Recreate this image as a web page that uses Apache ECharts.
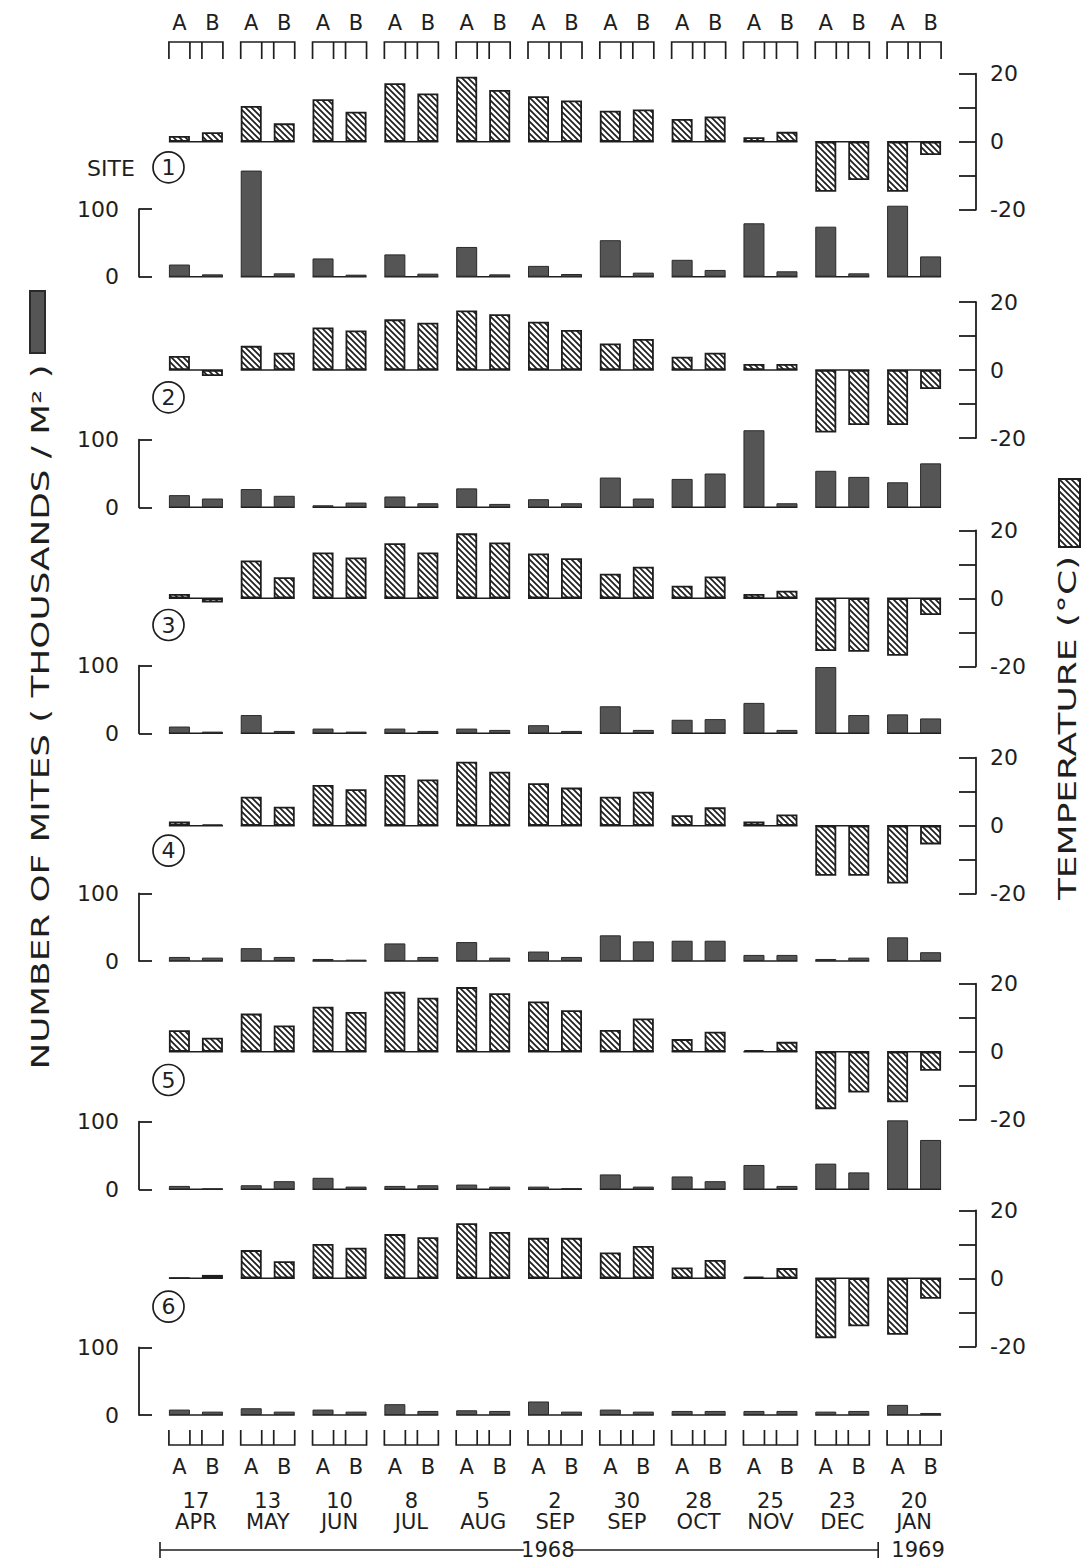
<!DOCTYPE html>
<html>
<head>
<meta charset="utf-8">
<script src="https://cdn.jsdelivr.net/npm/echarts@6/dist/echarts.min.js"></script>
<style>
html,body{margin:0;padding:0;background:#fff;}
#main{width:1091px;height:1564px;}
</style>
</head>
<body>
<div id="main"></div>
<script>
// ---------------- DATA ----------------
const days   = ['17','13','10','8','5','2','30','28','25','23','20'];
const months = ['APR','MAY','JUN','JUL','AUG','SEP','SEP','OCT','NOV','DEC','JAN'];
const sampleLabels = ['A','B'];
const siteNames = ['1','2','3','4','5','6'];
const yearSpans = [['1968',0,9],['1969',10,10]];
const tempTicks = [-20, 0, 20];
const miteTicks = [0, 100];

// temperature (°C), sample A and B per site
const site1TempA = [1.7, 10.5, 12.5, 17.2, 19.1, 13.4, 9.1, 6.7, 1.3, -14.7, -14.7];
const site1TempB = [2.8, 5.4, 8.8, 14.2, 15.2, 12.1, 9.5, 7.4, 2.9, -11.3, -3.9];
const site2TempA = [4.1, 7.1, 12.5, 14.9, 17.5, 14.2, 7.8, 3.9, 1.8, -18.4, -16.2];
const site2TempB = [-1.8, 5.1, 11.6, 13.9, 16.4, 11.8, 9.1, 5.1, 1.8, -16.2, -5.6];
const site3TempA = [1.3, 11.1, 13.5, 16.2, 19.1, 13.2, 7.2, 3.7, 1.3, -15.5, -16.9];
const site3TempB = [-1.2, 6.2, 12.0, 13.5, 16.4, 11.8, 9.3, 6.4, 2.2, -15.7, -4.9];
const site4TempA = [1.2, 8.5, 12.0, 14.9, 18.8, 12.5, 8.5, 3.1, 1.2, -14.7, -17.0];
const site4TempB = [0.3, 5.6, 10.7, 13.6, 15.9, 11.2, 10.0, 5.4, 3.3, -14.7, -5.5];
const site5TempA = [6.3, 11.2, 13.2, 17.6, 19.0, 14.8, 6.4, 3.7, 0.5, -16.9, -14.9];
const site5TempB = [4.1, 7.7, 11.7, 15.9, 17.2, 12.2, 9.8, 5.9, 2.9, -12.0, -5.6];
const site6TempA = [0.1, 8.3, 10.1, 13.0, 16.2, 11.9, 7.6, 3.2, 0.5, -17.6, -16.6];
const site6TempB = [1.0, 5.0, 9.0, 12.1, 13.6, 11.9, 9.5, 5.4, 3.0, -14.1, -6.0];

// mites (thousands / m2), sample A and B per site
const site1MiteA = [18, 157, 27, 33, 44, 16, 54, 25, 79, 74, 105];
const site1MiteB = [3.5, 5, 3, 4.5, 3.5, 4, 6, 10, 8, 5, 30];
const site2MiteA = [18, 27, 3, 16, 28, 12, 44, 42, 114, 54, 37];
const site2MiteB = [13, 17, 7, 6, 5, 6, 13, 50, 6, 45, 65];
const site3MiteA = [10, 27, 7, 7, 7, 12, 40, 20, 45, 98, 28];
const site3MiteB = [2.5, 3.5, 2.5, 3.5, 5, 3.5, 5, 21, 5, 27, 22];
const site4MiteA = [6, 19, 3, 26, 28, 14, 38, 30, 9, 3, 35];
const site4MiteB = [5, 6, 2, 6, 5, 6, 29, 30, 9, 5, 13];
const site5MiteA = [5, 6, 17, 5, 7, 4, 22, 19, 36, 38, 102];
const site5MiteB = [1, 12, 4, 6, 4, 1.5, 4, 12, 5, 25, 73];
const site6MiteA = [8, 10, 8, 16, 7, 20, 8, 6, 6, 5, 15];
const site6MiteB = [5, 5, 5, 6, 6, 5, 5, 6, 6, 6, 3];

const tempA = [site1TempA, site2TempA, site3TempA, site4TempA, site5TempA, site6TempA];
const tempB = [site1TempB, site2TempB, site3TempB, site4TempB, site5TempB, site6TempB];
const miteA = [site1MiteA, site2MiteA, site3MiteA, site4MiteA, site5MiteA, site6MiteA];
const miteB = [site1MiteB, site2MiteB, site3MiteB, site4MiteB, site5MiteB, site6MiteB];
const categories = days.map((d, i) => d + ' ' + months[i]);

// ---------------- LAYOUT / STYLE ----------------
const INK = '#1e1e1e';
const FONT = "'DejaVu Sans', sans-serif";
const X_LEFT = 160, X_WIDTH = 790;
const tempZeroY = [141.7, 370, 598.3, 825.7, 1051.7, 1278.3];
const miteZeroY = [276.7, 507.3, 733.3, 961, 1189.3, 1415];
const siteLabelY = [168.3, 398.3, 626, 851.7, 1081, 1307.7];
const TEMP_HALF = 68, MITE_H = 67.6;
const BAR_W = 21, GAP = 12;
const HALF_GROUP = BAR_W + GAP / 2;
const SUB_OFF = (BAR_W + GAP) / 2;

function hatchPattern() {
  const s = 6;
  const c = document.createElement('canvas');
  c.width = s; c.height = s;
  const g = c.getContext('2d');
  g.fillStyle = '#fff'; g.fillRect(0, 0, s, s);
  g.strokeStyle = INK; g.lineWidth = 1.7;
  g.beginPath();
  g.moveTo(-1, -1); g.lineTo(s + 1, s + 1);
  g.moveTo(-1, s - 1); g.lineTo(1, s + 1);
  g.moveTo(s - 1, -1); g.lineTo(s + 1, 1);
  g.stroke();
  return { image: c, repeat: 'repeat', imageWidth: s, imageHeight: s };
}
const HATCH = hatchPattern();

const grids = [], xAxes = [], yAxes = [], series = [];

function baseline(gi) {
  return {
    type: 'custom', xAxisIndex: gi, yAxisIndex: gi, silent: true, z: 1,
    data: categories.map((_, i) => [i, 0]),
    renderItem: (params, api) => {
      const p = api.coord([api.value(0), 0]);
      return { type: 'line', shape: { x1: p[0] - HALF_GROUP, y1: p[1], x2: p[0] + HALF_GROUP, y2: p[1] },
               style: { stroke: INK, lineWidth: 1.6 } };
    }
  };
}

for (let k = 0; k < 6; k++) {
  // temperature panel
  const ti = grids.length;
  grids.push({ left: X_LEFT, width: X_WIDTH, top: tempZeroY[k] - TEMP_HALF, height: 2 * TEMP_HALF });
  xAxes.push({ type: 'category', gridIndex: ti, data: categories, show: false });
  yAxes.push({
    type: 'value', gridIndex: ti, min: -20, max: 20, interval: 10, position: 'right', offset: 26,
    axisLine: { show: true, onZero: false, lineStyle: { color: INK, width: 1.8 } },
    axisTick: { show: true, inside: true, length: 17, lineStyle: { color: INK, width: 1.8 } },
    axisLabel: { show: true, margin: 14, color: INK, fontSize: 22, fontFamily: FONT,
                 formatter: v => (tempTicks.indexOf(v) >= 0 ? String(v) : '') },
    splitLine: { show: false }
  });
  series.push(baseline(ti));
  [tempA[k], tempB[k]].forEach(arr => series.push({
    type: 'bar', name: 'Temperature', xAxisIndex: ti, yAxisIndex: ti, data: arr,
    barWidth: BAR_W, barGap: (GAP / BAR_W * 100) + '%', clip: false, z: 2,
    itemStyle: { color: HATCH, borderColor: INK, borderWidth: 1.8 }
  }));

  // mite panel
  const mi = grids.length;
  grids.push({ left: X_LEFT, width: X_WIDTH, top: miteZeroY[k] - MITE_H, height: MITE_H });
  xAxes.push({ type: 'category', gridIndex: mi, data: categories, show: false });
  yAxes.push({
    type: 'value', gridIndex: mi, min: 0, max: 100, interval: 100, position: 'left', offset: 21,
    axisLine: { show: true, onZero: false, lineStyle: { color: INK, width: 1.8 } },
    axisTick: { show: true, inside: true, length: 13, lineStyle: { color: INK, width: 1.8 } },
    axisLabel: { show: true, margin: 20, color: INK, fontSize: 22, fontFamily: FONT,
                 formatter: v => (miteTicks.indexOf(v) >= 0 ? String(v) : '') },
    splitLine: { show: false }
  });
  series.push(baseline(mi));
  [miteA[k], miteB[k]].forEach(arr => series.push({
    type: 'bar', name: 'Mites', xAxisIndex: mi, yAxisIndex: mi, data: arr,
    barWidth: BAR_W, barGap: (GAP / BAR_W * 100) + '%', clip: false, z: 2,
    itemStyle: { color: '#555555', borderColor: '#2a2a2a', borderWidth: 1 }
  }));
}

// frame grid (page-pixel value axis) for bracket scales, sample and date labels
const fi = grids.length;
grids.push({ left: X_LEFT, width: X_WIDTH, top: 0, height: 1564 });
xAxes.push({ type: 'category', gridIndex: fi, data: categories, show: false });
yAxes.push({ type: 'value', gridIndex: fi, min: 0, max: 1564, inverse: true, show: false });

function txt(x, y, s, size) {
  return { type: 'text', x: x, y: y, style: { text: s, fill: INK, fontSize: size || 21, fontFamily: FONT,
           align: 'center', verticalAlign: 'middle' } };
}
series.push({
  type: 'custom', xAxisIndex: fi, yAxisIndex: fi, silent: true,
  data: categories.map((_, i) => [i, 0]),
  renderItem: (params, api) => {
    const i = api.value(0);
    const cx = api.coord([i, 0])[0];
    const Y = v => api.coord([i, v])[1];
    const aL = cx - HALF_GROUP, aR = cx - GAP / 2, bL = cx + GAP / 2, bR = cx + HALF_GROUP;
    const ls = { stroke: INK, lineWidth: 1.7, fill: null };
    const ch = [];
    // top scale
    ch.push({ type: 'polyline', shape: { points: [[aL, Y(59)], [aL, Y(42)], [bR, Y(42)], [bR, Y(59)]] }, style: ls });
    ch.push({ type: 'line', shape: { x1: aR, y1: Y(42), x2: aR, y2: Y(59) }, style: ls });
    ch.push({ type: 'line', shape: { x1: bL, y1: Y(42), x2: bL, y2: Y(59) }, style: ls });
    ch.push(txt(cx - SUB_OFF, Y(23), sampleLabels[0]));
    ch.push(txt(cx + SUB_OFF, Y(23), sampleLabels[1]));
    // bottom scale
    ch.push({ type: 'polyline', shape: { points: [[aL, Y(1430)], [aL, Y(1445)], [bR, Y(1445)], [bR, Y(1430)]] }, style: ls });
    ch.push({ type: 'line', shape: { x1: aR, y1: Y(1445), x2: aR, y2: Y(1430) }, style: ls });
    ch.push({ type: 'line', shape: { x1: bL, y1: Y(1445), x2: bL, y2: Y(1430) }, style: ls });
    ch.push(txt(cx - SUB_OFF, Y(1467), sampleLabels[0]));
    ch.push(txt(cx + SUB_OFF, Y(1467), sampleLabels[1]));
    ch.push(txt(cx, Y(1501), days[i]));
    ch.push(txt(cx, Y(1522), months[i]));
    return { type: 'group', children: ch };
  }
});
series.push({
  type: 'custom', xAxisIndex: fi, yAxisIndex: fi, silent: true,
  data: yearSpans.map(s => [s[1], s[2]]),
  renderItem: (params, api) => {
    const label = yearSpans[params.dataIndex][0];
    const from = api.value(0), to = api.value(1);
    const band = api.size([1, 0])[0];
    const c0 = api.coord([from, 0])[0], c1 = api.coord([to, 0])[0];
    const y = api.coord([from, 1550])[1];
    const ls = { stroke: INK, lineWidth: 1.6 };
    if (from === to) {
      return txt(c0 + 4, y, label, 21);
    }
    const left = c0 - band / 2, right = c1 + band / 2;
    const tx = left + 0.54 * (right - left);
    return { type: 'group', children: [
      { type: 'line', shape: { x1: left, y1: y - 8, x2: left, y2: y + 8 }, style: ls },
      { type: 'line', shape: { x1: left, y1: y, x2: tx - 24, y2: y }, style: ls },
      { type: 'line', shape: { x1: tx + 24, y1: y, x2: right, y2: y }, style: ls },
      { type: 'line', shape: { x1: right, y1: y - 8, x2: right, y2: y + 8 }, style: ls },
      txt(tx, y, label, 21)
    ] };
  }
});

const titles = siteNames.map((n, k) => ({
  text: '{c|' + n + '}', left: 153, top: siteLabelY[k] - 16.5, padding: 0,
  textStyle: { rich: { c: { width: 31, height: 31, lineHeight: 31, align: 'center', borderColor: INK,
    borderWidth: 1.7, borderRadius: 17, fontSize: 22, fontFamily: FONT, color: INK, fontWeight: 'normal' } } }
}));
titles.push({ text: 'SITE', left: 87, top: siteLabelY[0] - 13, padding: 0,
  textStyle: { fontSize: 22, fontFamily: FONT, color: INK, fontWeight: 'normal', lineHeight: 26 } });

const chart = echarts.init(document.getElementById('main'), null, { renderer: 'svg' });
chart.setOption({
  animation: false,
  backgroundColor: '#fff',
  title: titles,
  legend: [
    { data: ['Mites'], left: 29, top: 290, orient: 'vertical', icon: 'rect', itemWidth: 15, itemHeight: 62,
      padding: 0, formatter: () => '', selectedMode: false },
    { data: ['Temperature'], left: 1058, top: 478, orient: 'vertical', icon: 'rect', itemWidth: 21, itemHeight: 68,
      padding: 0, formatter: () => '', selectedMode: false }
  ],
  graphic: [
    { type: 'text', x: 41, y: 717, rotation: Math.PI / 2, scaleX: 1.49,
      style: { text: 'NUMBER OF MITES ( THOUSANDS / M\u00B2 )', fill: INK, fontSize: 24, fontFamily: FONT,
               align: 'center', verticalAlign: 'middle' } },
    { type: 'text', x: 1068, y: 728, rotation: Math.PI / 2, scaleX: 1.5,
      style: { text: 'TEMPERATURE (\u00B0C)', fill: INK, fontSize: 24, fontFamily: FONT,
               align: 'center', verticalAlign: 'middle' } }
  ],
  grid: grids,
  xAxis: xAxes,
  yAxis: yAxes,
  series: series
});
</script>
</body>
</html>
